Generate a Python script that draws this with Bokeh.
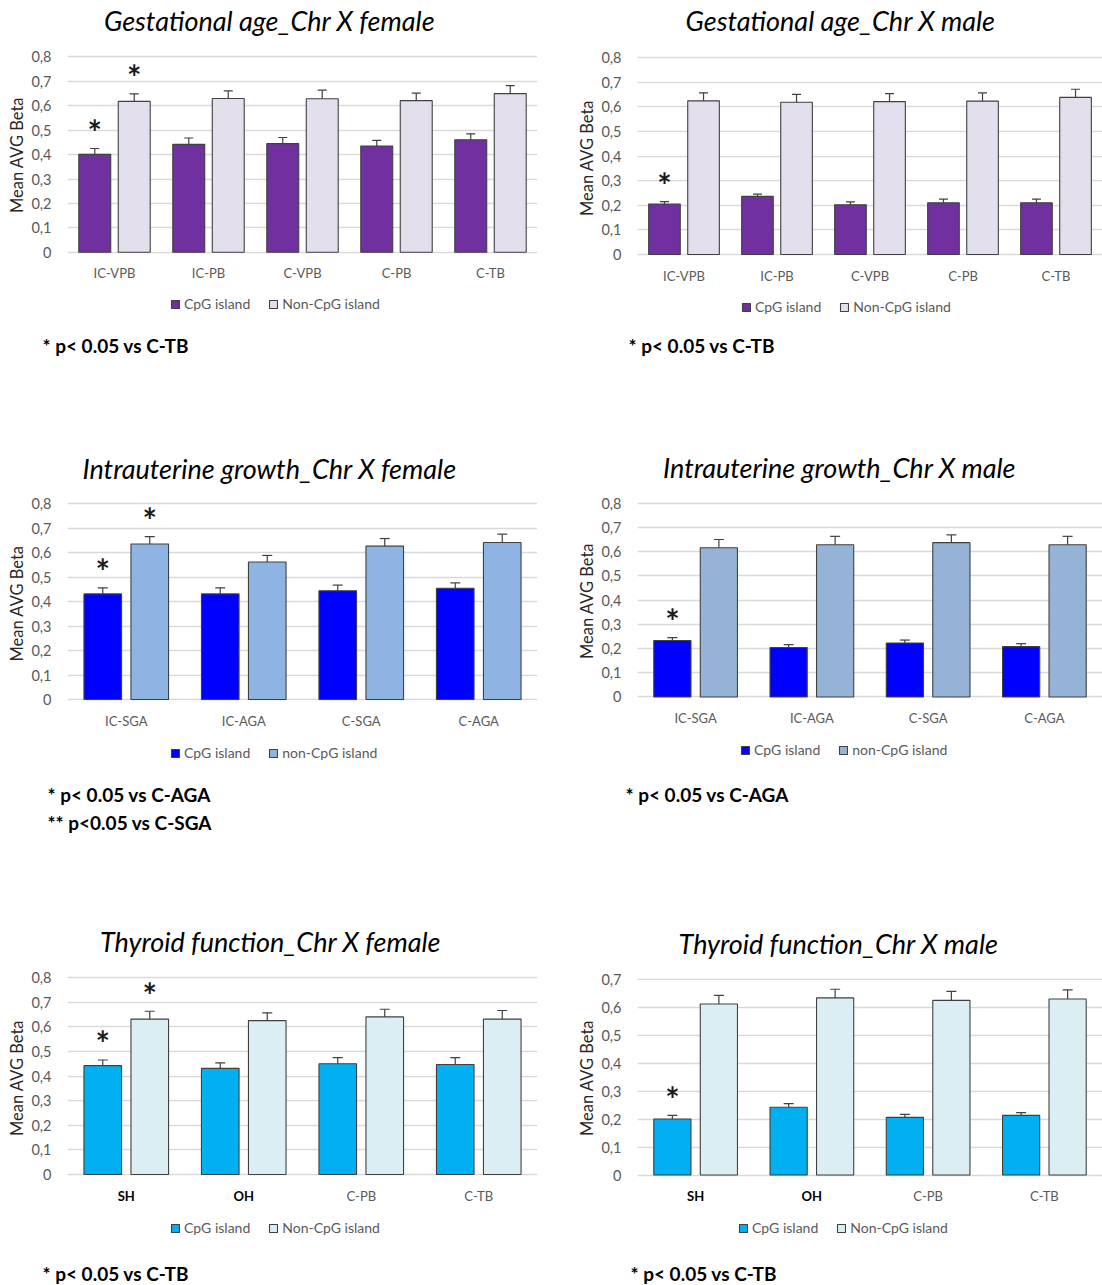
from bokeh.plotting import figure
from bokeh.models import (ColumnDataSource, FactorRange, Range1d, Label, Legend,
                          LegendItem, FixedTicker, CustomJSTickFormatter, Title)
from bokeh.transform import dodge
from bokeh.layouts import column, row
from bokeh.embed import file_html
from bokeh.resources import INLINE
from bokeh.core.properties import value

# ---------------------------------------------------------------- data
ticks_08 = [0, 0.1, 0.2, 0.3, 0.4, 0.5, 0.6, 0.7, 0.8]
ticks_07 = [0, 0.1, 0.2, 0.3, 0.4, 0.5, 0.6, 0.7]

# Gestational age
ga_groups = ["IC-VPB", "IC-PB", "C-VPB", "C-PB", "C-TB"]
ga_f_cpg = [0.401, 0.442, 0.445, 0.435, 0.461]
ga_f_cpg_err = [0.024, 0.026, 0.025, 0.023, 0.024]
ga_f_non = [0.618, 0.630, 0.629, 0.621, 0.650]
ga_f_non_err = [0.031, 0.031, 0.035, 0.031, 0.033]
ga_f_cpg_sig = [True, False, False, False, False]
ga_f_non_sig = [True, False, False, False, False]

ga_m_cpg = [0.205, 0.236, 0.202, 0.210, 0.210]
ga_m_cpg_err = [0.010, 0.009, 0.012, 0.015, 0.015]
ga_m_non = [0.624, 0.618, 0.621, 0.623, 0.638]
ga_m_non_err = [0.032, 0.032, 0.032, 0.033, 0.033]
ga_m_cpg_sig = [True, False, False, False, False]
ga_m_non_sig = [False, False, False, False, False]

# Intrauterine growth
iug_groups = ["IC-SGA", "IC-AGA", "C-SGA", "C-AGA"]
iug_f_cpg = [0.431, 0.431, 0.444, 0.454]
iug_f_cpg_err = [0.025, 0.025, 0.023, 0.022]
iug_f_non = [0.635, 0.561, 0.626, 0.641]
iug_f_non_err = [0.030, 0.027, 0.031, 0.034]
iug_f_cpg_sig = [True, False, False, False]
iug_f_non_sig = [True, False, False, False]

iug_m_cpg = [0.233, 0.204, 0.223, 0.208]
iug_m_cpg_err = [0.012, 0.012, 0.012, 0.012]
iug_m_non = [0.616, 0.628, 0.637, 0.628]
iug_m_non_err = [0.034, 0.035, 0.032, 0.035]
iug_m_cpg_sig = [True, False, False, False]
iug_m_non_sig = [False, False, False, False]

# Thyroid function
th_groups = ["SH", "OH", "C-PB", "C-TB"]
th_bold = ["SH", "OH"]
th_f_cpg = [0.442, 0.431, 0.450, 0.447]
th_f_cpg_err = [0.023, 0.022, 0.025, 0.028]
th_f_non = [0.631, 0.625, 0.640, 0.631]
th_f_non_err = [0.032, 0.031, 0.031, 0.035]
th_f_cpg_sig = [True, False, False, False]
th_f_non_sig = [True, False, False, False]

th_m_cpg = [0.200, 0.242, 0.206, 0.213]
th_m_cpg_err = [0.013, 0.013, 0.011, 0.010]
th_m_non = [0.611, 0.633, 0.624, 0.629]
th_m_non_err = [0.031, 0.031, 0.032, 0.033]
th_m_cpg_sig = [True, False, False, False]
th_m_non_sig = [False, False, False, False]

# ---------------------------------------------------------------- styling
FONT = "Lato"
EDGE = "#404040"
GRID = "#D9D9D9"
TICK_TXT = "#595959"

GA_COLORS = ("#7030A0", "#E4DFEC")
IUG_F_COLORS = ("#0000FF", "#8DB4E2")
IUG_M_COLORS = ("#0000FF", "#95B3D7")
TH_COLORS = ("#00B0F0", "#DAEEF3")


def panel(title, groups, cpg, cpg_err, non, non_err, sig_cpg, sig_non, colors,
          labels, ticks, side, height, chart_top, chart_bottom, frame_bottom,
          title_xy, legend_xy, notes, bold_groups=(), offset=0.21, bar_w=0.34,
          cap=9):
    """One grouped bar panel.  The plot frame runs from the top of the canvas
    down to frame_bottom; the value axis maps 0..max onto chart_top..chart_bottom."""
    width = 551
    left, right = (67, 14) if side == "L" else (86, 0)
    n = len(groups)
    fw = width - left - right
    ymax = ticks[-1]
    ppu = (chart_bottom - chart_top) / ymax

    def dx(px):
        return (px - left) / fw * n

    def dy(py):
        return ymax - (py - chart_top) / ppu

    p = figure(width=width, height=height,
               x_range=FactorRange(factors=groups, range_padding=0),
               y_range=Range1d(dy(frame_bottom), dy(0)),
               x_axis_location=None,
               output_backend="svg", toolbar_location=None,
               min_border_left=left, min_border_right=right,
               min_border_top=0, min_border_bottom=height - frame_bottom)
    p.outline_line_color = None
    p.background_fill_color = "white"
    p.border_fill_color = "white"
    p.xgrid.grid_line_color = None
    p.xgrid.visible = False

    src = ColumnDataSource(dict(
        cat=groups, cpg=cpg, non=non,
        cpg_hi=[v + e for v, e in zip(cpg, cpg_err)],
        non_hi=[v + e for v, e in zip(non, non_err)],
        zero=[0] * n,
        style=["bold" if c in bold_groups else "normal" for c in groups],
        tcolor=["#000000" if c in bold_groups else TICK_TXT for c in groups],
    ))

    renderers = []
    for key, off, color in (("cpg", -offset, colors[0]), ("non", offset, colors[1])):
        xs = dodge("cat", off, range=p.x_range)
        r = p.vbar(x=xs, top=key, width=bar_w, source=src, fill_color=color,
                   line_color=EDGE, line_width=1.1)
        renderers.append(r)
        p.segment(x0=xs, y0=key, x1=xs, y1=key + "_hi", source=src,
                  line_color=EDGE, line_width=1.2)
        p.scatter(x=xs, y=key + "_hi", marker="dash", size=cap, source=src,
                  line_color=EDGE, line_width=1.2)

    # significance asterisks over the flagged bars
    for key, off, flags, hi in (("cpg", -offset, sig_cpg, src.data["cpg_hi"]),
                                ("non", offset, sig_non, src.data["non_hi"])):
        cats = [c for c, f in zip(groups, flags) if f]
        if not cats:
            continue
        ys = [h for h, f in zip(hi, flags) if f]
        s = ColumnDataSource(dict(cat=cats, y=ys, t=["*"] * len(cats)))
        p.text(x=dodge("cat", off, range=p.x_range), y="y", text="t", source=s,
               text_font=value(FONT), text_font_size="34px", text_font_style="bold",
               text_align="center", text_baseline="middle", text_color="#1a1a1a",
               y_offset=-17)

    # category names under the baseline
    p.text(x="cat", y="zero", text="cat", source=src, y_offset=21,
           text_font=value(FONT), text_font_size="13px", text_font_style="style",
           text_color="tcolor", text_align="center", text_baseline="middle")

    # value axis
    p.yaxis.ticker = FixedTicker(ticks=ticks)
    p.yaxis.formatter = CustomJSTickFormatter(
        code="return tick == 0 ? '0' : tick.toFixed(1).replace('.', ',');")
    p.yaxis.major_label_text_font = FONT
    p.yaxis.major_label_text_font_size = "14.5px"
    p.yaxis.major_label_text_color = TICK_TXT
    p.yaxis.major_label_standoff = 10
    p.yaxis.major_tick_line_color = None
    p.yaxis.minor_tick_line_color = None
    p.yaxis.axis_line_color = None

    p.ygrid.grid_line_color = GRID
    p.ygrid.grid_line_width = 1.5

    # axis caption, centred on the value scale
    cap_len = 120
    p.add_layout(Title(text="Mean AVG Beta", align="left",
                       offset=frame_bottom - ((chart_top + chart_bottom) / 2 + cap_len / 2),
                       standoff=3, text_font=FONT, text_font_size="16.5px",
                       text_font_style="normal", text_color="#262626"), "left")

    # chart title
    p.add_layout(Label(x=dx(title_xy[0]), y=dy(title_xy[1]), text=title,
                       text_font=FONT, text_font_style="italic",
                       text_font_size="27px", text_color="#000000",
                       text_align="center", text_baseline="middle"))

    # legend under the category names
    legend = Legend(items=[LegendItem(label=labels[0], renderers=[renderers[0]]),
                           LegendItem(label=labels[1], renderers=[renderers[1]])],
                    orientation="horizontal",
                    location=(legend_xy[0] - left, frame_bottom - (legend_xy[1] + 8)),
                    padding=0, margin=0, spacing=18, label_standoff=4,
                    glyph_width=10, glyph_height=10, label_height=16,
                    label_text_font=FONT, label_text_font_size="14px",
                    label_text_color=TICK_TXT, label_text_baseline="middle",
                    border_line_color=None, background_fill_alpha=0)
    p.add_layout(legend)

    # footnotes below the plot area
    for text, nx, gap in notes:
        p.add_layout(Title(text=text, align="left", offset=nx - left,
                           vertical_align="middle", standoff=gap,
                           text_font=FONT, text_font_style="bold",
                           text_font_size="19px", text_color="#000000"), "below")
    return p


lbl_upper = ("CpG island", "Non-CpG island")
lbl_lower = ("CpG island", "non-CpG island")

p1 = panel("Gestational age_Chr X female", ga_groups, ga_f_cpg, ga_f_cpg_err,
           ga_f_non, ga_f_non_err, ga_f_cpg_sig, ga_f_non_sig, GA_COLORS, lbl_upper,
           ticks_08, "L", 440, 57, 254, 335, (269, 20), (170, 307),
           [("* p< 0.05 vs C-TB", 42, 1)])
p2 = panel("Gestational age_Chr X male", ga_groups, ga_m_cpg, ga_m_cpg_err,
           ga_m_non, ga_m_non_err, ga_m_cpg_sig, ga_m_non_sig, GA_COLORS, lbl_upper,
           ticks_08, "R", 440, 57, 254, 332, (840 - 551, 20), (741 - 551, 307),
           [("* p< 0.05 vs C-TB", 628 - 551, 1)])

p3 = panel("Intrauterine growth_Chr X female", iug_groups, iug_f_cpg, iug_f_cpg_err,
           iug_f_non, iug_f_non_err, iug_f_cpg_sig, iug_f_non_sig, IUG_F_COLORS,
           lbl_lower, ticks_08, "L", 480, 63, 259, 341, (269, 28), (170, 313),
           [("* p< 0.05 vs C-AGA", 47, 1), ("** p<0.05 vs C-SGA", 47, 5)],
           offset=0.2, bar_w=0.32, cap=10)
p4 = panel("Intrauterine growth_Chr X male", iug_groups, iug_m_cpg, iug_m_cpg_err,
           iug_m_non, iug_m_non_err, iug_m_cpg_sig, iug_m_non_sig, IUG_M_COLORS,
           lbl_lower, ticks_08, "R", 480, 63, 258, 343, (839 - 551, 27), (740 - 551, 312),
           [("* p< 0.05 vs C-AGA", 625 - 551, 1)],
           offset=0.2, bar_w=0.32, cap=10)

p5 = panel("Thyroid function_Chr X female", th_groups, th_f_cpg, th_f_cpg_err,
           th_f_non, th_f_non_err, th_f_cpg_sig, th_f_non_sig, TH_COLORS, lbl_upper,
           ticks_08, "L", 365, 57, 254, 340, (270, 21), (170, 308),
           [("* p< 0.05 vs C-TB", 42, 0)], bold_groups=th_bold,
           offset=0.2, bar_w=0.32, cap=10)
p6 = panel("Thyroid function_Chr X male", th_groups, th_m_cpg, th_m_cpg_err,
           th_m_non, th_m_non_err, th_m_cpg_sig, th_m_non_sig, TH_COLORS, lbl_upper,
           ticks_07, "R", 365, 59, 256, 342, (838 - 551, 23), (738 - 551, 310),
           [("* p< 0.05 vs C-TB", 630 - 551, 0)], bold_groups=th_bold,
           offset=0.2, bar_w=0.32, cap=10)

layout = column(row(p1, p2), row(p3, p4), row(p5, p6))

open("out.html", "w").write(file_html(layout, INLINE))
